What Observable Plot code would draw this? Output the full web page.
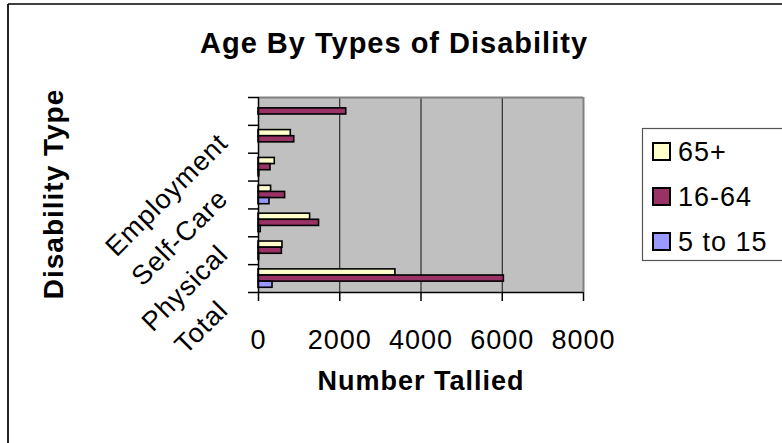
<!DOCTYPE html>
<html><head><meta charset="utf-8">
<script src="https://cdn.jsdelivr.net/npm/d3@7"></script>
<script src="https://cdn.jsdelivr.net/npm/@observablehq/plot@0.6"></script>
<style>
html,body{margin:0;padding:0;background:#fff;}
#chart{position:relative;width:782px;height:443px;overflow:hidden;}
#chart svg text{letter-spacing:1px;}
</style></head><body><div id="chart"></div>
<script>
const categories = ["Total","Sensory","Physical","Mental","Self-Care","Go-Outside-Home","Employment"];
const shownLabels = ["Total","Physical","Self-Care","Employment"];
const series = ["65+","16-64","5 to 15"];
const colors = ["#FFFFCC","#993366","#9999FF"];
const values65 = [3370, 590, 1270, 310, 400, 795, 0];
const values1664 = [6040, 575, 1490, 655, 295, 880, 2160];
const values515 = [345, 15, 55, 270, 20, 0, 0];
const xTicks = [0, 2000, 4000, 6000, 8000];
const gridTicks = [2000, 4000, 6000];
const title = "Age By Types of Disability";
const xTitle = "Number Tallied";
const yTitle = "Disability Type";

const W = 782, H = 443;
const mL = 258, mR = 199, mT = 97, mB = 151;
const bandPx = (H - mT - mB) / categories.length;
const barPx = 6.13;
const groupTop = (bandPx - 3 * barPx) / 2;
const font = "'Liberation Sans', Arial, Helvetica, sans-serif";

const seriesValues = [values65, values1664, values515];
const rows = [];
series.forEach((s, k) => categories.forEach((c, i) => {
  rows.push({category: c, index: i, series: s, slot: k, value: seriesValues[k][i]});
}));
const labelRows = categories.map((c, i) => ({category: c, index: i})).filter(d => shownLabels.includes(d.category));

const barMarks = series.map((s, k) => {
  const insetTop = groupTop + k * barPx;
  const insetBottom = bandPx - insetTop - barPx;
  return Plot.rect(rows.filter(d => d.slot === k && d.value > 0), {
    x1: () => 0, x2: "value", y1: "index", y2: d => d.index + 1,
    insetTop, insetBottom, fill: colors[k], stroke: "#000", strokeWidth: 1.6
  });
});

const svg = Plot.plot({
  width: W, height: H,
  marginLeft: mL, marginRight: mR, marginTop: mT, marginBottom: mB,
  style: {fontFamily: font, fontSize: "27px", background: "#fff", color: "#000", overflow: "visible"},
  x: {domain: [0, 8000]},
  y: {domain: [0, categories.length]},
  marks: [
    Plot.frame({fill: "#C0C0C0", stroke: null}),
    Plot.ruleX(gridTicks, {stroke: "#111", strokeWidth: 1}),
    Plot.ruleY([categories.length], {stroke: "#808080", strokeWidth: 2}),
    Plot.ruleX([8000], {stroke: "#808080", strokeWidth: 2}),
    ...barMarks,
    Plot.ruleX([0], {stroke: "#000", strokeWidth: 1.5}),
    Plot.ruleY([0], {stroke: "#000", strokeWidth: 1.5}),
    Plot.axisY({ticks: d3.range(categories.length + 1), tickSize: 10, tickFormat: () => null, label: null, stroke: "#000", strokeWidth: 1.5}),
    Plot.axisX({ticks: xTicks, tickSize: 9, tickPadding: 28, tickFormat: d3.format("d"), label: null, stroke: "#000", strokeWidth: 1.5, fontSize: 27, fill: "#000"}),
    Plot.text(labelRows, {x: () => 0, y: d => d.index + 0.5, text: "category", rotate: -45, textAnchor: "end", lineAnchor: "middle", dx: -35, dy: 27, fontSize: 27, fill: "#000"})
  ]
});

const s = d3.select(svg);
// outer chart border (left and top edges)
s.append("line").attr("x1", 8).attr("x2", 8).attr("y1", 4).attr("y2", H).attr("stroke", "#222").attr("stroke-width", 2);
s.append("line").attr("x1", 8).attr("x2", W).attr("y1", 4).attr("y2", 4).attr("stroke", "#000").attr("stroke-width", 1.5);
// title
s.append("text").text(title).attr("x", 394).attr("y", 53).attr("text-anchor", "middle")
  .attr("font-family", font).attr("font-size", 29).attr("font-weight", "bold").attr("fill", "#000");
// x title
s.append("text").text(xTitle).attr("x", 421).attr("y", 390).attr("text-anchor", "middle")
  .attr("font-family", font).attr("font-size", 27).attr("font-weight", "bold").attr("fill", "#000");
// y title
s.append("text").text(yTitle).attr("transform", "translate(63,194) rotate(-90)").attr("text-anchor", "middle")
  .attr("font-family", font).attr("font-size", 28).attr("font-weight", "bold").attr("fill", "#000");
// legend
const lg = s.append("g");
lg.append("rect").attr("x", 642.5).attr("y", 128.5).attr("width", 200).attr("height", 132)
  .attr("fill", "#fff").attr("stroke", "#555").attr("stroke-width", 1.2);
series.forEach((name, k) => {
  const yb = 161 + k * 45;
  lg.append("rect").attr("x", 653).attr("y", yb - 18).attr("width", 17).attr("height", 17)
    .attr("fill", colors[k]).attr("stroke", "#000").attr("stroke-width", 2);
  lg.append("text").text(name).attr("x", 678).attr("y", yb).attr("text-anchor", "start")
    .attr("font-family", font).attr("font-size", 27).attr("fill", "#000");
});
document.getElementById("chart").appendChild(svg);
</script></body></html>
